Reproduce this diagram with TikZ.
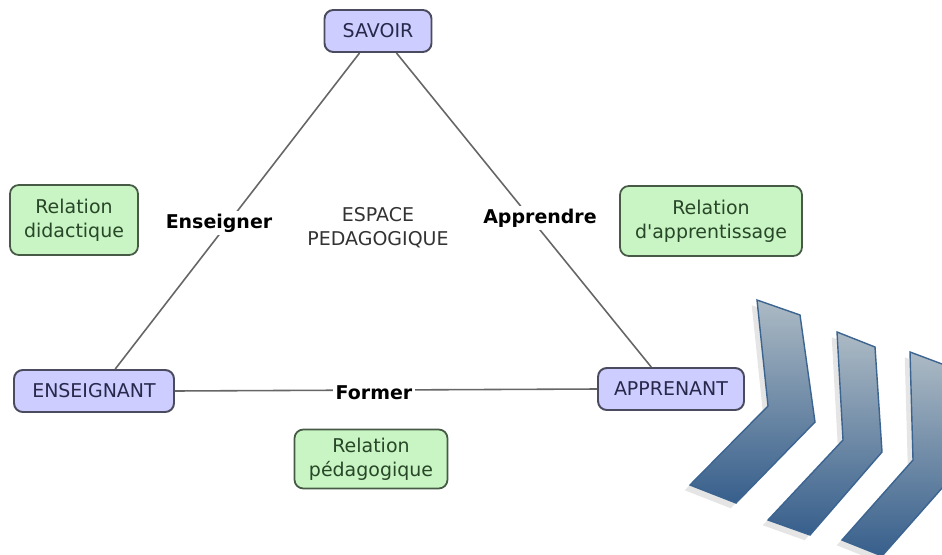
\documentclass[tikz,border=0pt]{standalone}
\usepackage{fontspec}
\setmainfont{DejaVu Sans}
\usetikzlibrary{shadows}

\definecolor{pole}{RGB}{205,205,255}
\definecolor{poleline}{RGB}{75,75,95}
\definecolor{poletext}{RGB}{40,40,75}
\definecolor{rel}{RGB}{200,245,195}
\definecolor{relline}{RGB}{70,90,70}
\definecolor{reltext}{RGB}{40,70,40}
\definecolor{chevtop}{RGB}{172,186,196}
\definecolor{chevbot}{RGB}{55,95,140}
\definecolor{chevline}{RGB}{60,100,145}
\newcommand{\apos}{\XeTeXglyph\XeTeXcharglyph"27\relax}

\begin{document}
\begin{tikzpicture}[x=0.02cm, y=-0.02cm,
    pole/.style={rectangle, rounded corners=5pt, draw=poleline, line width=1.1pt,
      fill=pole, text=poletext, minimum height=0.84cm, inner sep=2pt},
    relation/.style={rectangle, rounded corners=5pt, draw=relline, line width=1pt,
      fill=rel, text=reltext, align=center, inner sep=2pt},
    verbe/.style={fill=white, font=\bfseries, inner sep=1.5pt},
    lien/.style={draw=black!60, line width=0.9pt},
    chevron/.style={draw=chevline, line width=0.8pt, top color=chevtop, bottom color=chevbot,
      drop shadow={shadow xshift=-3pt, shadow yshift=-3pt, opacity=0.2}}
    ]
    \useasboundingbox[fill=white] (0,0) rectangle (942,554);
    \fontsize{10.8}{13.5}\selectfont
    % les trois poles
    \node[pole, minimum width=2.14cm] (savoir) at (378,31) {SAVOIR};
    \node[pole, minimum width=3.2cm] (enseignant) at (94,391) {ENSEIGNANT};
    \node[pole, minimum width=2.92cm] (apprenant) at (671,389) {APPRENANT};
    % les relations
    \node[relation, minimum width=2.56cm, minimum height=1.4cm] (didactique) at (74,220) {Relation\\didactique};
    \node[relation, minimum width=3.64cm, minimum height=1.4cm] (apprentissage) at (711,221) {Relation\\d\apos apprentissage};
    \node[relation, minimum width=3.06cm, minimum height=1.18cm] (pedagogique) at (371,459) {Relation\\pédagogique};
    \node[align=center, text=black!80] (espace) at (378,228) {ESPACE\\PEDAGOGIQUE};
    % les cotes du triangle
    \draw[lien] (savoir.-130) -- (enseignant.46);
    \draw[lien] (savoir.-50) -- (apprenant.132);
    \draw[lien] (enseignant.east) -- (apprenant.west);
    \node[verbe] (enseigner) at (219,223) {Enseigner};
    \node[verbe] (apprendre) at (540,218) {Apprendre};
    \node[verbe] (former) at (374,393) {Former};
    % les chevrons
    \begin{scope}
      \clip (0,0) rectangle (942,554);
      \path[chevron] (757,300) -- (800,315) -- (815,422) -- (736,503) -- (690,485) -- (768,406) -- cycle;
      \path[chevron] (837,332) -- (875,347) -- (882,452) -- (810,535) -- (768,520) -- (843,440) -- cycle;
      \path[chevron] (910,352) -- (950,367) -- (958,470) -- (882,556) -- (842,540) -- (913,460) -- cycle;
    \end{scope}
  \end{tikzpicture}
\end{document}
